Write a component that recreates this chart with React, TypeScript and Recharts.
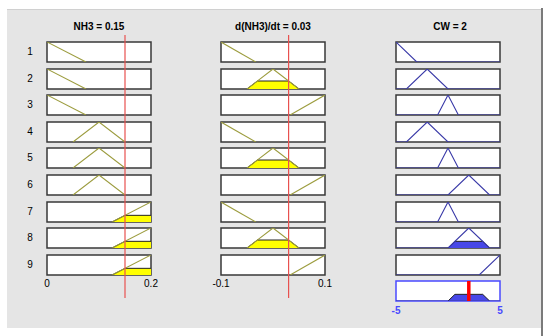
import { ComposedChart, LineChart, Line, Area, XAxis, YAxis, ReferenceArea, ReferenceLine } from 'recharts';

// rule numbers shown on the left
const ruleLabels = ['1', '2', '3', '4', '5', '6', '7', '8', '9'];

// input 1: NH3
const nh3Title = 'NH3 = 0.15';
const nh3Range = [0, 0.2];
const nh3Ticks = ['0', '0.2'];
const nh3Value = 0.15;
const nh3Low = [-0.075, 0, 0.075];
const nh3Medium = [0.05, 0.1, 0.15];
const nh3High = [0.125, 0.2, 0.275];

// input 2: d(NH3)/dt
const dTitle = 'd(NH3)/dt = 0.03';
const dRange = [-0.1, 0.1];
const dTicks = ['-0.1', '0.1'];
const dValue = 0.03;
const dNegative = [-0.167, -0.1, -0.033];
const dZero = [-0.05, 0, 0.05];
const dPositive = [0.033, 0.1, 0.167];

// output: CW
const cwTitle = 'CW = 2';
const cwRange = [-5, 5];
const cwTicks = ['-5', '5'];
const cwValue = 2;
const cwMfs = [[-7, -5, -3], [-4, -2, 0], [-1, 0, 1], [0, 2, 4], [3, 5, 7]];

// rule base: which mf each rule uses
const ruleNh3 = [0, 0, 0, 1, 1, 1, 2, 2, 2];
const ruleD = [0, 1, 2, 0, 1, 2, 0, 1, 2];
const ruleCw = [0, 1, 2, 1, 2, 3, 2, 3, 4];

const nh3Mfs = [nh3Low, nh3Medium, nh3High];
const dMfs = [dNegative, dZero, dPositive];

const OLIVE = '#9c9c3e';
const YELLOW = '#ffff00';
const NAVY = '#3a3aa8';
const BLUE_FILL = '#4848e8';
const BORDER = '#383838';
const FONT = '"Liberation Sans", Arial, sans-serif';

const BOX_W = 104;
const BOX_H = 20;
const ROW_TOP = 42;
const ROW_STEP = 26.6;
const PAD = 2;
const COL_X = [47, 221, 396];

type Pt = { x: number; y: number };

function trimf(x: number, p: number[]) {
  const [a, b, c] = p;
  if (x === b) return 1;
  if (x <= a || x >= c) return 0;
  return x < b ? (x - a) / (b - a) : (c - x) / (c - b);
}

function uniqSorted(xs: number[]) {
  return Array.from(new Set(xs.map(v => Math.round(v * 1e6) / 1e6))).sort((u, v) => u - v);
}

function mfLine(p: number[], range: number[], full: boolean): Pt[] {
  const lo = full ? range[0] : Math.max(range[0], p[0]);
  const hi = full ? range[1] : Math.min(range[1], p[2]);
  const xs = uniqSorted([range[0], p[0], p[1], p[2], range[1]]).filter(x => x >= lo && x <= hi);
  return xs.map(x => ({ x, y: trimf(x, p) }));
}

function mfClip(p: number[], range: number[], h: number): Pt[] {
  if (h <= 0) return [];
  const [a, b, c] = p;
  const lo = Math.max(range[0], a);
  const hi = Math.min(range[1], c);
  const xs = uniqSorted([lo, a, a + h * (b - a), b, c - h * (c - b), c, hi]).filter(x => x >= lo && x <= hi);
  return xs.map(x => ({ x, y: Math.min(trimf(x, p), h) }));
}

function MfBox({ left, top, range, line, fill, lineColor, fillColor, fillStroke, border, marker }: {
  left: number; top: number; range: number[]; line: Pt[]; fill: Pt[];
  lineColor: string; fillColor: string; fillStroke: string; border: string; marker?: number;
}) {
  return (
    <div style={{ position: 'absolute', left: left - PAD, top: top - PAD }}>
      <ComposedChart width={BOX_W + PAD * 2} height={BOX_H + PAD * 2} margin={{ top: PAD, right: PAD, bottom: PAD, left: PAD }}>
        <XAxis type="number" dataKey="x" domain={range} hide allowDataOverflow />
        <YAxis type="number" domain={[0, 1]} hide allowDataOverflow />
        <ReferenceArea x1={range[0]} x2={range[1]} y1={0} y2={1} fill="#fff" fillOpacity={1} stroke={border} strokeWidth={1.5} ifOverflow="visible" />
        {line.length > 0 && (
          <Line data={line} dataKey="y" type="linear" stroke={lineColor} strokeWidth={1.1} dot={false} isAnimationActive={false} />
        )}
        {fill.length > 0 && (
          <Area data={fill} dataKey="y" type="linear" baseValue={0} fill={fillColor} fillOpacity={1} stroke={fillStroke} strokeWidth={1} dot={false} isAnimationActive={false} />
        )}
        {marker !== undefined && (
          <ReferenceLine x={marker} stroke="#ff0000" strokeWidth={3.5} ifOverflow="visible" />
        )}
      </ComposedChart>
    </div>
  );
}

function InputMarker({ left, range, value }: { left: number; range: number[]; value: number }) {
  const ends = range.map(x => ({ x, y: 0 }));
  return (
    <div style={{ position: 'absolute', left: left - PAD, top: 35, pointerEvents: 'none' }}>
      <LineChart data={ends} width={BOX_W + PAD * 2} height={263} margin={{ top: 0, right: PAD, bottom: 0, left: PAD }}>
        <XAxis type="number" dataKey="x" domain={range} hide allowDataOverflow />
        <YAxis type="number" domain={[0, 1]} hide />
        <Line dataKey="y" stroke="none" dot={false} isAnimationActive={false} />
        <ReferenceLine x={value} stroke="#e8514f" strokeWidth={1.2} ifOverflow="visible" />
      </LineChart>
    </div>
  );
}

const textBase: React.CSSProperties = { position: 'absolute', fontFamily: FONT, fontSize: 10, lineHeight: '12px', whiteSpace: 'nowrap' };

function Label({ cx, cy, children, style }: { cx: number; cy: number; children: string; style?: React.CSSProperties }) {
  return (
    <div style={{ ...textBase, left: cx - 50, top: cy - 6, width: 100, textAlign: 'center', ...style }}>{children}</div>
  );
}

export default function App() {
  const nh3Deg = nh3Mfs.map(p => trimf(nh3Value, p));
  const dDeg = dMfs.map(p => trimf(dValue, p));
  const firing = ruleLabels.map((_, i) => Math.min(nh3Deg[ruleNh3[i]], dDeg[ruleD[i]]));
  const aggRule = firing.indexOf(Math.max(...firing));
  const rowTop = (i: number) => ROW_TOP + i * ROW_STEP;

  return (
    <div style={{ position: 'absolute', left: 0, top: 0, width: 550, height: 336, background: '#fff', overflow: 'hidden' }}>
      <div style={{ position: 'absolute', left: 7, top: 9, width: 534, height: 318, background: '#e5e5e5', borderTop: '1px solid #d0d0d0' }} />
      <div style={{ position: 'absolute', left: 541, top: 8, width: 2, height: 328, background: '#7a7a7a' }} />

      <Label cx={COL_X[0] + BOX_W / 2} cy={27} style={{ fontWeight: 'bold' }}>{nh3Title}</Label>
      <Label cx={COL_X[1] + BOX_W / 2} cy={27} style={{ fontWeight: 'bold' }}>{dTitle}</Label>
      <Label cx={COL_X[2] + BOX_W / 2 + 2} cy={27} style={{ fontWeight: 'bold' }}>{cwTitle}</Label>

      {ruleLabels.map((r, i) => (
        <Label key={'l' + r} cx={30} cy={rowTop(i) + BOX_H / 2}>{r}</Label>
      ))}

      {ruleLabels.map((r, i) => {
        const p1 = nh3Mfs[ruleNh3[i]];
        const p2 = dMfs[ruleD[i]];
        const p3 = cwMfs[ruleCw[i]];
        return (
          <div key={'r' + r}>
            <MfBox left={COL_X[0]} top={rowTop(i)} range={nh3Range} line={mfLine(p1, nh3Range, false)}
              fill={mfClip(p1, nh3Range, nh3Deg[ruleNh3[i]])} lineColor={OLIVE} fillColor={YELLOW} fillStroke="#222" border={BORDER} />
            <MfBox left={COL_X[1]} top={rowTop(i)} range={dRange} line={mfLine(p2, dRange, false)}
              fill={mfClip(p2, dRange, dDeg[ruleD[i]])} lineColor={OLIVE} fillColor={YELLOW} fillStroke="#222" border={BORDER} />
            <MfBox left={COL_X[2]} top={rowTop(i)} range={cwRange} line={mfLine(p3, cwRange, true)}
              fill={mfClip(p3, cwRange, firing[i])} lineColor={NAVY} fillColor={BLUE_FILL} fillStroke="#222" border={BORDER} />
          </div>
        );
      })}

      <MfBox left={COL_X[2]} top={rowTop(9)} range={cwRange} line={mfLine([-99, -98, -97], cwRange, true)}
        fill={mfClip(cwMfs[ruleCw[aggRule]], cwRange, firing[aggRule])} lineColor={NAVY} fillColor={BLUE_FILL}
        fillStroke="#222" border="#4a4aff" marker={cwValue} />

      <InputMarker left={COL_X[0]} range={nh3Range} value={nh3Value} />
      <InputMarker left={COL_X[1]} range={dRange} value={dValue} />

      <Label cx={COL_X[0]} cy={284}>{nh3Ticks[0]}</Label>
      <Label cx={COL_X[0] + BOX_W} cy={284}>{nh3Ticks[1]}</Label>
      <Label cx={COL_X[1]} cy={284}>{dTicks[0]}</Label>
      <Label cx={COL_X[1] + BOX_W} cy={284}>{dTicks[1]}</Label>
      <Label cx={COL_X[2]} cy={311} style={{ color: '#4a4aff', fontWeight: 'bold' }}>{cwTicks[0]}</Label>
      <Label cx={COL_X[2] + BOX_W} cy={311} style={{ color: '#4a4aff', fontWeight: 'bold' }}>{cwTicks[1]}</Label>
    </div>
  );
}
